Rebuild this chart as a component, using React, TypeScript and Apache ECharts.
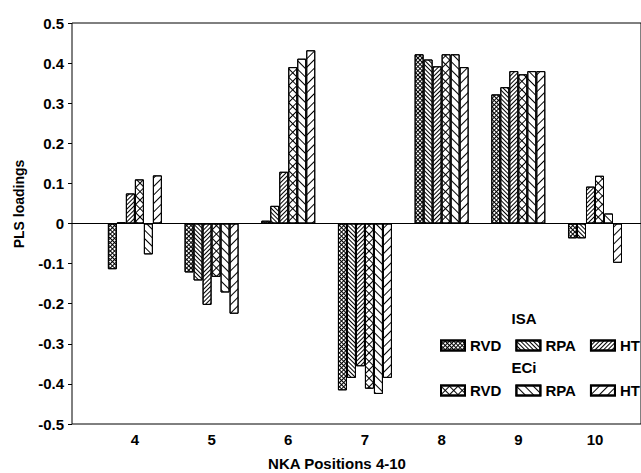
import React, { useEffect, useRef } from 'react';
import * as echarts from 'echarts';

const categories = [4, 5, 6, 7, 8, 9, 10];
const seriesNames = ['ISA RVD', 'ISA RPA', 'ISA HT', 'ECi RVD', 'ECi RPA', 'ECi HT'];
const isaRVD = [-0.114, -0.122, 0.007, -0.416, 0.422, 0.322, -0.037];
const isaRPA = [0.003, -0.142, 0.044, -0.385, 0.409, 0.34, -0.037];
const isaHT = [0.075, -0.203, 0.129, -0.356, 0.392, 0.38, 0.092];
const eciRVD = [0.11, -0.133, 0.39, -0.412, 0.422, 0.372, 0.119];
const eciRPA = [-0.077, -0.172, 0.411, -0.425, 0.422, 0.38, 0.025];
const eciHT = [0.12, -0.225, 0.432, -0.385, 0.39, 0.38, -0.098];
const yTickLabels = ['-0.5', '-0.4', '-0.3', '-0.2', '-0.1', '0', '0.1', '0.2', '0.3', '0.4', '0.5'];

const FONT = 'Liberation Sans';

const crossPath = (s: number) => `path://M0,0 H${s} V1 H1 V${s} H0 Z`;

const decals: any[] = [
  { symbol: crossPath(3), symbolSize: 1, dashArrayX: [3, 0], dashArrayY: [3, 0], rotation: Math.PI / 4, color: '#000', backgroundColor: '#fff' },
  { symbol: 'rect', symbolSize: 1, dashArrayX: [1, 0], dashArrayY: [1, 2], rotation: Math.PI / 4, color: '#000', backgroundColor: '#fff' },
  { symbol: 'rect', symbolSize: 1, dashArrayX: [1, 0], dashArrayY: [1, 2], rotation: -Math.PI / 4, color: '#000', backgroundColor: '#fff' },
  { symbol: crossPath(6), symbolSize: 1, dashArrayX: [6, 0], dashArrayY: [6, 0], rotation: Math.PI / 4, color: '#000', backgroundColor: '#fff' },
  { symbol: 'rect', symbolSize: 1, dashArrayX: [1, 0], dashArrayY: [1, 5], rotation: Math.PI / 4, color: '#000', backgroundColor: '#fff' },
  { symbol: 'rect', symbolSize: 1, dashArrayX: [1, 0], dashArrayY: [1, 5], rotation: -Math.PI / 4, color: '#000', backgroundColor: '#fff' },
];

export default function App() {
  const ref = useRef<HTMLDivElement>(null);
  useEffect(() => {
    if (!ref.current) return;
    const chart = echarts.init(ref.current, null, { renderer: 'svg' });
    const values = [isaRVD, isaRPA, isaHT, eciRVD, eciRPA, eciHT];
    const textStyle = { fontFamily: FONT, fontWeight: 'bold' as const, fontSize: 15, color: '#000' };
    const font = `bold 15px "${FONT}"`;
    const legendBase = {
      left: 440, orient: 'horizontal', icon: 'rect',
      itemWidth: 24, itemHeight: 10, itemGap: 14, padding: 0, selectedMode: false,
      formatter: (n: string) => n.split(' ')[1], textStyle,
    };
    chart.setOption({
      animation: false,
      backgroundColor: '#fff',
      grid: { left: 72, top: 23, right: -2, bottom: 49, show: true, borderColor: '#000', borderWidth: 1, backgroundColor: 'transparent' },
      xAxis: {
        type: 'value',
        min: 3.18,
        max: 10.6,
        axisLine: { show: false },
        axisTick: { show: false },
        splitLine: { show: false },
        axisLabel: { customValues: categories, ...textStyle, margin: 8 },
      },
      yAxis: {
        type: 'value',
        min: -0.5,
        max: 0.5,
        interval: 0.1,
        axisLine: { show: false },
        axisTick: { show: true, inside: false, length: 4, lineStyle: { color: '#000', width: 1 } },
        splitLine: { show: false },
        axisLabel: {
          ...textStyle,
          margin: 8,
          formatter: (v: number) => yTickLabels[Math.round(v * 10) + 5],
        },
      },
      legend: [
        { ...legendBase, data: seriesNames.slice(0, 3), top: 338 },
        { ...legendBase, data: seriesNames.slice(3), top: 383 },
      ],
      graphic: [
        { type: 'text', x: 524, y: 318, style: { text: 'ISA', fill: '#000', font, textAlign: 'center', textVerticalAlign: 'middle' } },
        { type: 'text', x: 524, y: 367, style: { text: 'ECi', fill: '#000', font, textAlign: 'center', textVerticalAlign: 'middle' } },
        { type: 'text', x: 19, y: 204, rotation: Math.PI / 2, style: { text: 'PLS loadings', fill: '#000', font: `bold 14px "${FONT}"`, textAlign: 'center', textVerticalAlign: 'middle' } },
        { type: 'text', x: 337, y: 463, style: { text: 'NKA Positions 4-10', fill: '#000', font, textAlign: 'center', textVerticalAlign: 'middle' } },
      ],
      series: seriesNames.map((name, i) => ({
        type: 'bar',
        name,
        data: categories.map((c, j) => [c, values[i][j]]),
        barWidth: 9,
        barGap: '0%',
        itemStyle: { color: '#fff', borderColor: '#000', borderWidth: 1, decal: decals[i] },
        ...(i === 0
          ? {
              markLine: {
                silent: true,
                symbol: ['none', 'none'],
                label: { show: false },
                lineStyle: { color: '#000', width: 1, type: 'solid' },
                data: [{ yAxis: 0 }],
              },
            }
          : {}),
      })),
    });
    return () => chart.dispose();
  }, []);
  return <div ref={ref} style={{ position: 'fixed', left: 0, top: 0, width: 641, height: 473 }} />;
}
